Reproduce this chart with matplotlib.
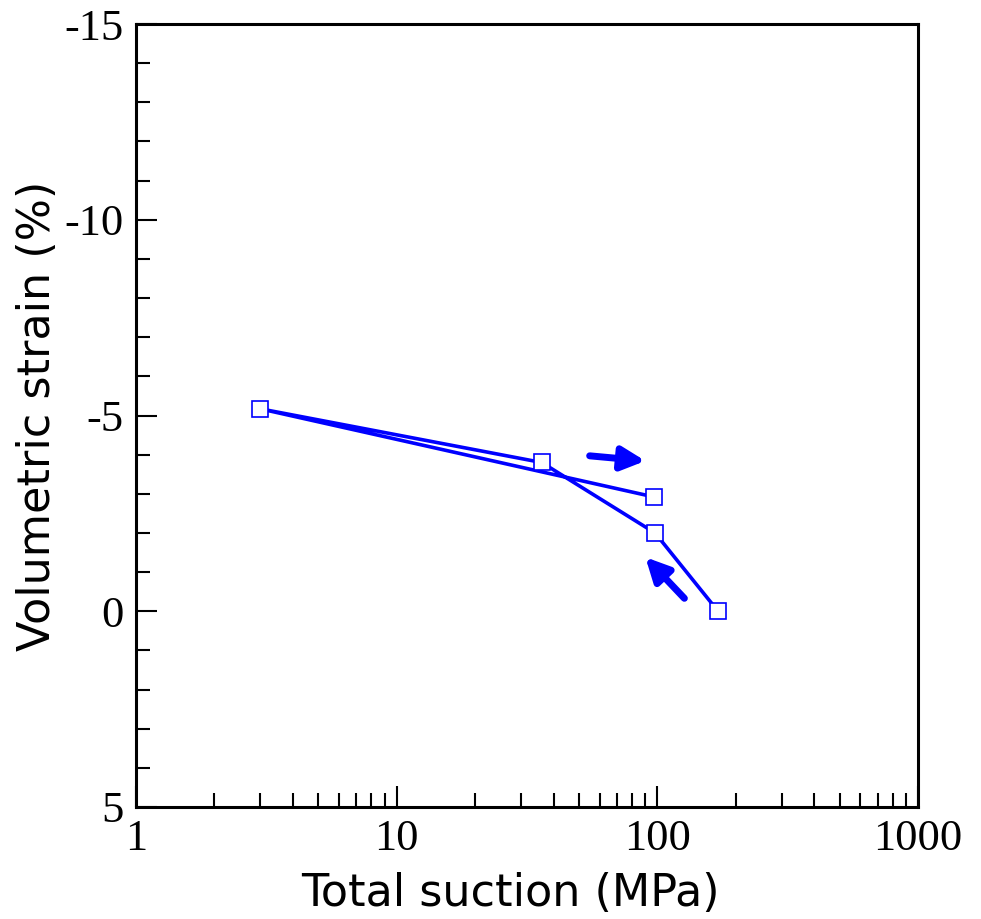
import matplotlib
matplotlib.use("Agg")
import matplotlib.pyplot as plt
from matplotlib.ticker import FixedLocator, MultipleLocator, LogLocator, NullFormatter

suction = [171, 98, 36, 3, 97]
strain = [0.0, -2.0, -3.8, -5.17, -2.92]
xticks = [1, 10, 100, 1000]
xticklabels = ["1", "10", "100", "1000"]
yticks = [5, 0, -5, -10, -15]
yticklabels = ["5", "0", "-5", "-10", "-15"]

fig = plt.figure(figsize=(9.81, 9.19), dpi=100)
ax = fig.add_axes([136/981, 1-807/919, (918-136)/981, (807-24)/919])

ax.plot(suction, strain, color=(0, 0, 1), lw=2.6, marker='s', ms=11,
        mfc='white', mec=(0, 0, 1), mew=1.2, zorder=3)

ax.annotate('', xy=(90, -3.84), xytext=(55, -3.97),
            arrowprops=dict(arrowstyle='-|>,head_length=1.4,head_width=0.7',
                            color=(0, 0, 1), lw=5, shrinkA=0, shrinkB=0))
ax.annotate('', xy=(90, -1.38), xytext=(127, -0.33),
            arrowprops=dict(arrowstyle='-|>,head_length=1.4,head_width=0.7',
                            color=(0, 0, 1), lw=5, shrinkA=0, shrinkB=0))

ax.set_xscale('log')
ax.set_xlim(1, 1000)
ax.set_ylim(5, -15)
ax.xaxis.set_major_locator(FixedLocator(xticks))
ax.xaxis.set_minor_locator(LogLocator(base=10, subs=range(2, 10)))
ax.xaxis.set_minor_formatter(NullFormatter())
ax.yaxis.set_major_locator(FixedLocator(yticks))
ax.yaxis.set_minor_locator(MultipleLocator(1))
tickfont = dict(family='Liberation Serif', size=32)
ax.set_xticklabels(xticklabels, fontdict=tickfont)
ax.set_yticklabels(yticklabels, fontdict=tickfont)

for s in ax.spines.values():
    s.set_linewidth(2.2)
ax.tick_params(which='both', direction='in', top=False, right=False, width=1.5)
ax.tick_params(which='major', length=15, pad=9)
ax.tick_params(which='minor', length=10)

ax.set_xlabel('Total suction (MPa)', fontsize=32, family=['DejaVu Sans'])
ax.xaxis.set_label_coords((510-136)/782, -(894-807)/783)
ax.xaxis.label.set_va('center')
ax.set_ylabel('Volumetric strain (%)', fontsize=32, family=['DejaVu Sans'],
              labelpad=4)

fig.savefig('out.png', dpi=100)
